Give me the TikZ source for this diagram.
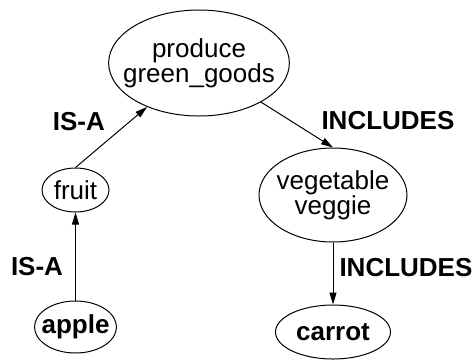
\documentclass[tikz,border=0pt]{standalone}
\usepackage{fontspec}
\setmainfont{Liberation Sans}
\usetikzlibrary{arrows.meta,shapes.geometric}

\tikzset{
  concept/.style={ellipse, draw, line width=0.5pt, inner xsep=-6pt, inner ysep=0pt,
    align=center, font=\fontsize{13pt}{12.5pt}\selectfont},
  rel/.style={font=\fontsize{13pt}{13pt}\selectfont\bfseries, inner sep=3pt}
}

\begin{document}
\begin{tikzpicture}[>={Triangle[length=6pt,width=3.5pt]},line width=0.5pt,node distance=68.5pt]
  \useasboundingbox (0,0) rectangle (238pt,-180pt);

  \node[concept, minimum width=89pt, minimum height=53pt] (produce) at (99.5pt,-31.5pt)
       {produce\\green\_goods};
  \node[concept, minimum width=74pt, minimum height=47pt] (vegetable) at (166.5pt,-97.5pt)
       {vegetable\\veggie};
  \node[concept, minimum width=33.5pt, minimum height=22pt] (fruit) at (37.75pt,-95pt) {fruit};
  \node[concept, minimum width=41pt, minimum height=26pt, font=\fontsize{13pt}{12.5pt}\selectfont\bfseries]
       (apple) [below of=fruit] {apple};
  \node[concept, minimum width=57.5pt, minimum height=27pt, font=\fontsize{13pt}{12.5pt}\selectfont\bfseries]
       (carrot) [below of=vegetable] {carrot};

  \path[->]
    (fruit.north) edge node[rel, pos=0.5, above left] {IS-A} (produce)
    (apple) edge node[rel, pos=0.39, left, xshift=-3pt] {IS-A} (fruit)
    (produce) edge node[rel, pos=0.75, above right] {INCLUDES} (vegetable.north)
    (vegetable) edge node[rel, pos=0.4, right] {INCLUDES} (carrot);
\end{tikzpicture}
\end{document}
